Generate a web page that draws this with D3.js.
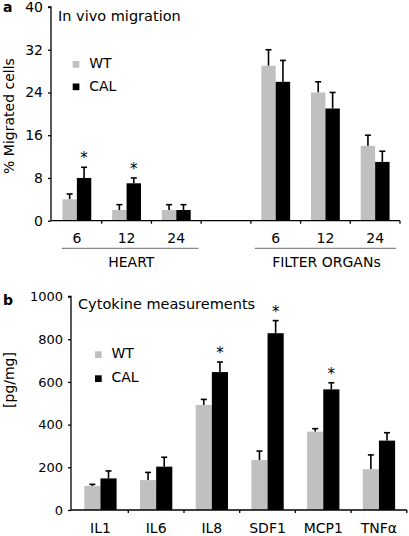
<!DOCTYPE html>
<html><head><meta charset="utf-8">
<script src="https://cdn.jsdelivr.net/npm/d3@7"></script>
<style>
body{margin:0;background:#fff}
svg{display:block;font-family:"DejaVu Sans",Verdana,sans-serif}
</style></head>
<body>
<svg id="c" width="409" height="536"></svg>
<script>
// Panel a data
const aCategories = ["6","12","24","","6","12","24"];
const aWT     = [4, 2, 2, null, 29, 24, 14];
const aWTErr  = [1, 1, 1, null, 3, 2, 2];
const aCAL    = [8, 7, 2, null, 26, 21, 11];
const aCALErr = [2, 1, 1, null, 4, 3, 2];
const aSig    = [true, true, false, false, false, false, false];
const aTicks  = [0, 8, 16, 24, 32, 40];
const aGroups = ["HEART", "FILTER ORGANs"];

// Panel b data
const bCategories = ["IL1","IL6","IL8","SDF1","MCP1","TNFα"];
const bWT     = [112, 140, 492, 234, 367, 191];
const bWTErr  = [8, 36, 26, 42, 14, 67];
const bCAL    = [148, 203, 646, 828, 565, 325];
const bCALErr = [35, 44, 47, 59, 31, 37];
const bSig    = [false, false, true, true, true, false];
const bTicks  = [0, 200, 400, 600, 800, 1000];

const series = ["WT", "CAL"];
const colors = {WT: "#c0c0c0", CAL: "#000000"};

const svg = d3.select("#c");

function panel(cfg) {
  const g = svg.append("g");
  const x = d3.scaleBand().domain(d3.range(cfg.cats.length)).range([cfg.x0, cfg.x1]);
  const y = d3.scaleLinear().domain([0, cfg.ymax]).range([cfg.yb, cfg.yt]);
  const bw = x.bandwidth() * 0.29;

  cfg.cats.forEach((c, i) => {
    const cx = x(i) + x.bandwidth() / 2;
    [[cfg.wt, cfg.wtErr, "WT", cx - bw], [cfg.cal, cfg.calErr, "CAL", cx]].forEach(([vals, errs, s, bx]) => {
      const v = vals[i];
      if (v == null) return;
      const e = errs[i];
      const mx = bx + bw / 2;
      g.append("line").attr("x1", mx).attr("x2", mx).attr("y1", y(v)).attr("y2", y(v + e))
        .attr("stroke", "#000").attr("stroke-width", 1.6);
      g.append("line").attr("x1", mx - 3).attr("x2", mx + 3).attr("y1", y(v + e)).attr("y2", y(v + e))
        .attr("stroke", "#000").attr("stroke-width", 1.6);
      g.append("rect").attr("x", bx).attr("y", y(v)).attr("width", bw).attr("height", y(0) - y(v))
        .attr("fill", colors[s]);
      if (s === "CAL" && cfg.sig[i]) {
        g.append("text").attr("x", mx).attr("y", y(v + e) - 4).attr("text-anchor", "middle")
          .attr("font-size", 15).attr("fill", "#000").text("*");
      }
    });
    if (cfg.cats[i] !== "") {
      g.append("text").attr("x", cx).attr("y", cfg.labelY).attr("text-anchor", "middle")
        .attr("font-size", cfg.catFont).attr("fill", "#000").text(cfg.cats[i]);
    }
  });

  // y axis
  const ya = g.append("g").attr("transform", `translate(${cfg.yx},0)`)
    .call(d3.axisLeft(y).tickValues(cfg.ticks).tickFormat(d3.format("d")).tickSize(3).tickPadding(5));
  ya.select(".domain").attr("stroke-width", 1.3).attr("d", `M-3,${y(cfg.ymax)}H0V${y(0)}`);
  ya.selectAll(".tick line").attr("stroke-width", 1.3);
  ya.selectAll("text").attr("font-size", cfg.tickFont).attr("font-family", "DejaVu Sans, Verdana, sans-serif").attr("fill", "#000");

  // x axis
  g.append("line").attr("x1", cfg.yx).attr("x2", cfg.x1).attr("y1", y(0)).attr("y2", y(0))
    .attr("stroke", "#000").attr("stroke-width", 1.3);
  d3.range(1, cfg.cats.length + 1).forEach(i => {
    const tx = i < cfg.cats.length ? x(i) : cfg.x1;
    g.append("line").attr("x1", tx).attr("x2", tx).attr("y1", y(0)).attr("y2", y(0) + 3)
      .attr("stroke", "#000").attr("stroke-width", 1.3);
  });

  g.append("text").attr("x", cfg.yx + 7).attr("y", cfg.titleY).attr("font-size", 14.5).text(cfg.title);
  g.append("text").attr("x", 3).attr("y", cfg.letterY).attr("font-size", 14).attr("font-weight", "bold").text(cfg.letter);

  g.append("text").attr("transform", `translate(${cfg.ylabX},${cfg.ylabY}) rotate(-90)`)
    .attr("text-anchor", "middle").attr("font-size", 14).text(cfg.ylabel);

  series.forEach((s, k) => {
    const ly = cfg.legY + k * cfg.legDy;
    g.append("rect").attr("x", cfg.legX).attr("y", ly - 7).attr("width", 6.7).attr("height", 6.7).attr("fill", colors[s]);
    g.append("text").attr("x", cfg.legX + 16.5).attr("y", ly).attr("font-size", 14).text(s);
  });
  return {g, x, y};
}

const A = panel({
  cats: aCategories, wt: aWT, wtErr: aWTErr, cal: aCAL, calErr: aCALErr, sig: aSig,
  ticks: aTicks, ymax: 40, x0: 52, x1: 400, yb: 220.7, yt: 7, yx: 51,
  labelY: 243, catFont: 14, tickFont: 14, title: "In vivo migration", titleY: 20.5,
  letter: "a", letterY: 12, ylabel: "% Migrated cells", ylabX: 13.5, ylabY: 116,
  legX: 72.7, legY: 68, legDy: 22.5
});
[[0, 2, aGroups[0], 0.2, 0.95], [4, 6, aGroups[1], 0.08, 0.92]].forEach(([i0, i1, name, f0, f1]) => {
  const xl = A.x(i0) + A.x.bandwidth() * f0, xr = A.x(i1) + A.x.bandwidth() * f1;
  A.g.append("line").attr("x1", xl).attr("x2", xr).attr("y1", 248.3).attr("y2", 248.3)
    .attr("stroke", "#888").attr("stroke-width", 1.2);
  A.g.append("text").attr("x", (xl + xr) / 2 + 1).attr("y", 266.7).attr("text-anchor", "middle")
    .attr("font-size", 14).text(name);
});

panel({
  cats: bCategories, wt: bWT, wtErr: bWTErr, cal: bCAL, calErr: bCALErr, sig: bSig,
  ticks: bTicks, ymax: 1000, x0: 72.6, x1: 406.8, yb: 510, yt: 296.5, yx: 71,
  labelY: 533, catFont: 14, tickFont: 13, title: "Cytokine measurements", titleY: 308.5,
  letter: "b", letterY: 305, ylabel: "[pg/mg]", ylabX: 13.5, ylabY: 380,
  legX: 95, legY: 358.3, legDy: 24
});
</script>
</body></html>
